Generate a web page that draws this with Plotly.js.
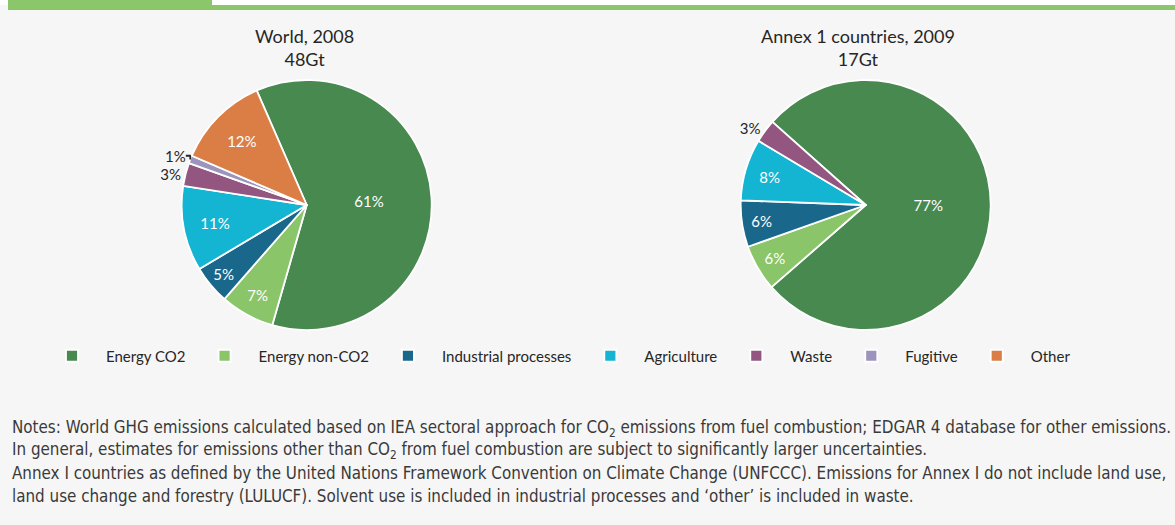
<!DOCTYPE html>
<html>
<head>
<meta charset="utf-8">
<script src="https://cdn.plot.ly/plotly-3.0.1.min.js"></script>
<style>
  html, body { margin: 0; padding: 0; background: #f6f6f6; }
  #chart { width: 1175px; height: 525px; }
</style>
</head>
<body>
<div id="chart"></div>
<script>
// Greenhouse gas emissions by source, shares in percent
const sectors = ['Energy CO2', 'Energy non-CO2', 'Industrial processes', 'Agriculture', 'Waste', 'Fugitive', 'Other'];
const sectorColors = ['#47894f', '#8bc56a', '#1a678c', '#14b4d3', '#925680', '#9c94bc', '#db7e45'];

const worldLabels = ['Energy CO2', 'Energy non-CO2', 'Industrial processes', 'Agriculture', 'Waste', 'Fugitive', 'Other'];
const worldShares = [61, 7, 5, 11, 3, 1, 12];
const worldTitle = ['World, 2008', '48Gt'];

const annexLabels = ['Energy CO2', 'Energy non-CO2', 'Industrial processes', 'Agriculture', 'Waste'];
const annexShares = [77, 6, 6, 8, 3];
const annexTitle = ['Annex 1 countries, 2009', '17Gt'];

const notes = [
  'Notes: World GHG emissions calculated based on IEA sectoral approach for CO<sub>2</sub> emissions from fuel combustion; EDGAR 4 database for other emissions.',
  'In general, estimates for emissions other than CO<sub>2</sub> from fuel combustion are subject to significantly larger uncertainties.',
  'Annex I countries as defined by the United Nations Framework Convention on Climate Change (UNFCCC). Emissions for Annex I do not include land use,',
  'land use change and forestry (LULUCF). Solvent use is included in industrial processes and \u2018other\u2019 is included in waste.'
];

const W = 1175, H = 525;
const px = x => x / W;
const py = y => 1 - y / H;

const baseFont = 'Lato, "Open Sans", sans-serif';
const colorOf = lbl => sectorColors[sectors.indexOf(lbl)];
// small slices carry their label outside the pie
const positions = vals => vals.map(v => v <= 3 ? 'outside' : 'inside');

function pieTrace(labels, values, domainX, rotation) {
  return {
    type: 'pie',
    labels: labels,
    values: values,
    sort: false,
    direction: 'clockwise',
    rotation: rotation,
    marker: { colors: labels.map(colorOf), line: { color: '#ffffff', width: 1.8 } },
    texttemplate: '%{value}%',
    textposition: positions(values),
    insidetextorientation: 'horizontal',
    insidetextfont: { family: baseFont, size: 15, color: '#ffffff' },
    outsidetextfont: { family: baseFont, size: 15, color: '#262626' },
    hoverinfo: 'label+value',
    domain: { x: domainX, y: [py(330), py(80)] }
  };
}

const data = [
  pieTrace(worldLabels, worldShares, [px(181.7), px(431.7)], -23.6),
  pieTrace(annexLabels, annexShares, [px(740.7), px(990.7)], -48.3)
];

const annotations = [
  { text: worldTitle.join('<br>'), x: px(304), y: py(48) },
  { text: annexTitle.join('<br>'), x: px(858), y: py(48) }
].map(a => Object.assign({
  xref: 'paper', yref: 'paper', xanchor: 'center', yanchor: 'middle',
  showarrow: false, font: { family: baseFont, size: 18, color: '#262626' }
}, a));

const noteY = [428, 450.5, 473, 495.5];
notes.forEach((t, i) => annotations.push({
  text: t, xref: 'paper', yref: 'paper', x: px(10), y: py(noteY[i]),
  xanchor: 'left', yanchor: 'middle', align: 'left', showarrow: false,
  font: { family: '"DejaVu Sans Condensed", "Liberation Sans Narrow", sans-serif', size: 16.85, color: '#3a3a3a' }
}));

const shapes = [
  // header band and rule
  { type: 'rect', xref: 'paper', yref: 'paper', x0: 0, x1: 1, y0: py(5), y1: 1, fillcolor: '#ffffff', line: { width: 0 }, layer: 'below' },
  { type: 'rect', xref: 'paper', yref: 'paper', x0: px(8), x1: px(212), y0: py(10), y1: 1, fillcolor: '#8cc66b', line: { width: 0 }, layer: 'below' },
  { type: 'rect', xref: 'paper', yref: 'paper', x0: px(8), x1: 1, y0: py(10), y1: py(5), fillcolor: '#8cc66b', line: { width: 0 }, layer: 'below' }
];

const layout = {
  width: W, height: H,
  margin: { l: 0, r: 0, t: 0, b: 0 },
  paper_bgcolor: '#f6f6f6',
  plot_bgcolor: '#f6f6f6',
  showlegend: true,
  legend: {
    orientation: 'h', x: px(38), y: py(356), xanchor: 'left', yanchor: 'middle',
    itemwidth: 58,
    bgcolor: 'rgba(0,0,0,0)', font: { family: baseFont, size: 15, color: '#262626' },
    traceorder: 'normal'
  },
  annotations: annotations,
  shapes: shapes
};

Plotly.newPlot('chart', data, layout, { displayModeBar: false, staticPlot: true });
</script>
</body>
</html>
